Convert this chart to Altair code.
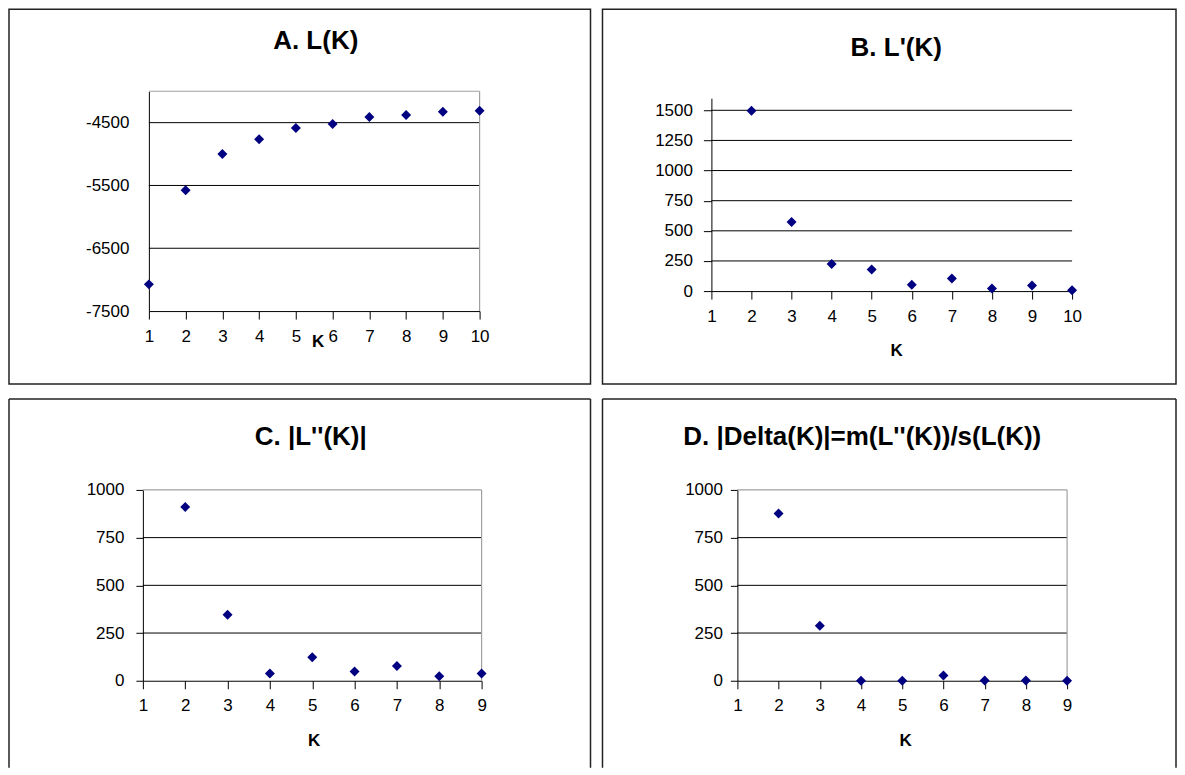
import altair as alt
import pandas as pd

FONT = "Liberation Sans, Arial, sans-serif"
NAVY = "#000080"
FRAME = "#a0a0a0"
TITLE_SIZE = 26

# ---- data ----
a_k = [1, 2, 3, 4, 5, 6, 7, 8, 9, 10]
a_v = [-7075, -5578, -4999, -4765, -4585, -4521, -4410, -4378, -4325, -4309]
a_xticks = [1, 2, 3, 4, 5, 6, 7, 8, 9, 10]
a_yticks = [-7500, -6500, -5500, -4500]
a_grid = [-6500, -5500, -4500]

b_k = [2, 3, 4, 5, 6, 7, 8, 9, 10]
b_v = [1497, 574, 225, 180, 53, 105, 22, 47, 6]
b_xticks = [1, 2, 3, 4, 5, 6, 7, 8, 9, 10]
b_yticks = [0, 250, 500, 750, 1000, 1250, 1500]
b_grid = [250, 500, 750, 1000, 1250, 1500]

c_k = [2, 3, 4, 5, 6, 7, 8, 9]
c_v = [911, 346, 38, 123, 49, 77, 24, 38]
c_xticks = [1, 2, 3, 4, 5, 6, 7, 8, 9]
c_yticks = [0, 250, 500, 750, 1000]
c_grid = [250, 500, 750]

d_k = [2, 3, 4, 5, 6, 7, 8, 9]
d_v = [877, 288, 0, 0, 28, 1, 1, 0]
d_xticks = [1, 2, 3, 4, 5, 6, 7, 8, 9]
d_yticks = [0, 250, 500, 750, 1000]
d_grid = [250, 500, 750]


def panel(k, v, title, xdom, xticks, ydom, yticks, grid, W, H, xr, yr,
          title_dx, title_y, kx, ky, ytick, ypad, frame, full_box):
    xs = alt.Scale(domain=xdom, range=xr, nice=False, zero=False)
    ys = alt.Scale(domain=ydom, range=yr, nice=False, zero=False)

    x_axis = alt.Axis(values=xticks, orient="bottom", offset=-(H - yr[0]),
                      title="K", titleX=kx, titleY=ky, titleBaseline="alphabetic",
                      titleAlign="center", titleFont=FONT, titleFontSize=17,
                      titleFontWeight="bold", titleColor="black",
                      labelFont=FONT, labelFontSize=17, labelColor="black",
                      labelPadding=9, tickSize=8, tickColor="black",
                      domainColor="black", grid=False, labelOverlap=False,
                      labelFlush=False, labelExpr="'' + datum.value")
    y_axis = alt.Axis(values=yticks, orient="left", offset=-xr[0], title=None,
                      labelFont=FONT, labelFontSize=17, labelColor="black",
                      labelPadding=ypad, ticks=ytick > 0, tickSize=max(ytick, 1),
                      tickColor="black", domainColor="black", grid=False,
                      labelOverlap=False, labelFlush=False,
                      labelExpr="'' + datum.value")

    pts = pd.DataFrame({"K": k, "V": v})
    grid_df = pd.DataFrame({"V": grid, "x1": [xdom[0]] * len(grid), "x2": [xdom[1]] * len(grid)})

    grid_layer = alt.Chart(grid_df).mark_rule(color="black", strokeWidth=1).encode(
        x=alt.X("x1:Q", scale=xs, axis=x_axis), x2="x2:Q",
        y=alt.Y("V:Q", scale=ys, axis=y_axis))

    layers = [grid_layer]
    if frame:
        fr = pd.DataFrame({"x1": [xdom[0], xdom[1]], "x2": [xdom[1], xdom[1]],
                           "y1": [ydom[1], ydom[0]], "y2": [ydom[1], ydom[1]]})
        layers.append(alt.Chart(fr).mark_rule(color=FRAME, strokeWidth=1.2).encode(
            x=alt.X("x1:Q", scale=xs, axis=x_axis), x2="x2:Q",
            y=alt.Y("y1:Q", scale=ys, axis=y_axis), y2="y2:Q"))

    pt_layer = alt.Chart(pts).mark_point(shape="diamond", filled=True, color=NAVY,
                                         size=100, opacity=1, strokeWidth=0).encode(
        x=alt.X("K:Q", scale=xs, axis=x_axis),
        y=alt.Y("V:Q", scale=ys, axis=y_axis))
    layers.append(pt_layer)

    if not full_box:
        one = pd.DataFrame({"o": [0]})
        box = alt.Chart(one).mark_rule(color="#222222", strokeWidth=1.5)
        layers += [
            box.encode(x=alt.value(0), y=alt.value(0), y2=alt.value(H)),
            box.encode(x=alt.value(W), y=alt.value(0), y2=alt.value(H)),
            box.encode(x=alt.value(0), x2=alt.value(W), y=alt.value(0)),
        ]

    view = (alt.ViewBackground(stroke="#222222", strokeWidth=1.5) if full_box
            else alt.ViewBackground(strokeWidth=0))
    return alt.layer(*layers).properties(
        width=W, height=H, view=view,
        title=alt.Title(title, font=FONT, fontSize=TITLE_SIZE, fontWeight="bold", color="black",
                        anchor="middle", frame="group", dx=title_dx,
                        offset=-(title_y + TITLE_SIZE - 2), baseline="alphabetic"))


A = panel(a_k, a_v, "A. L(K)", [1, 10], a_xticks, [-7500, -4000], a_yticks, a_grid,
          582, 375, [140, 471], [302, 82], 16, 42, 309, 35, 0, 20, True, True)
B = panel(b_k, b_v, "B. L'(K)", [1, 10], b_xticks, [0, 1600], b_yticks, b_grid,
          574, 375, [109, 470], [282, 89], 7, 49, 294, 64, 8, 11, False, True)
C = panel(c_k, c_v, "C. |L''(K)|", [1, 9], c_xticks, [0, 1000], c_yticks, c_grid,
          582, 369, [134, 473], [282, 91], 11, 49, 305, 65, 7, 12, True, False)
D = panel(d_k, d_v, "D. |Delta(K)|=m(L''(K))/s(L(K))", [1, 9], d_xticks, [0, 1000], d_yticks, d_grid,
          574, 369, [135, 465], [282, 91], -27, 49, 303, 65, 7, 8, True, False)

chart = alt.concat(A, B, C, D, columns=2, spacing={"row": 15, "column": 12},
                   bounds="flush").properties(padding=0).configure(background="white")

chart.save("out.html", embed_options={"renderer": "svg", "actions": False})
